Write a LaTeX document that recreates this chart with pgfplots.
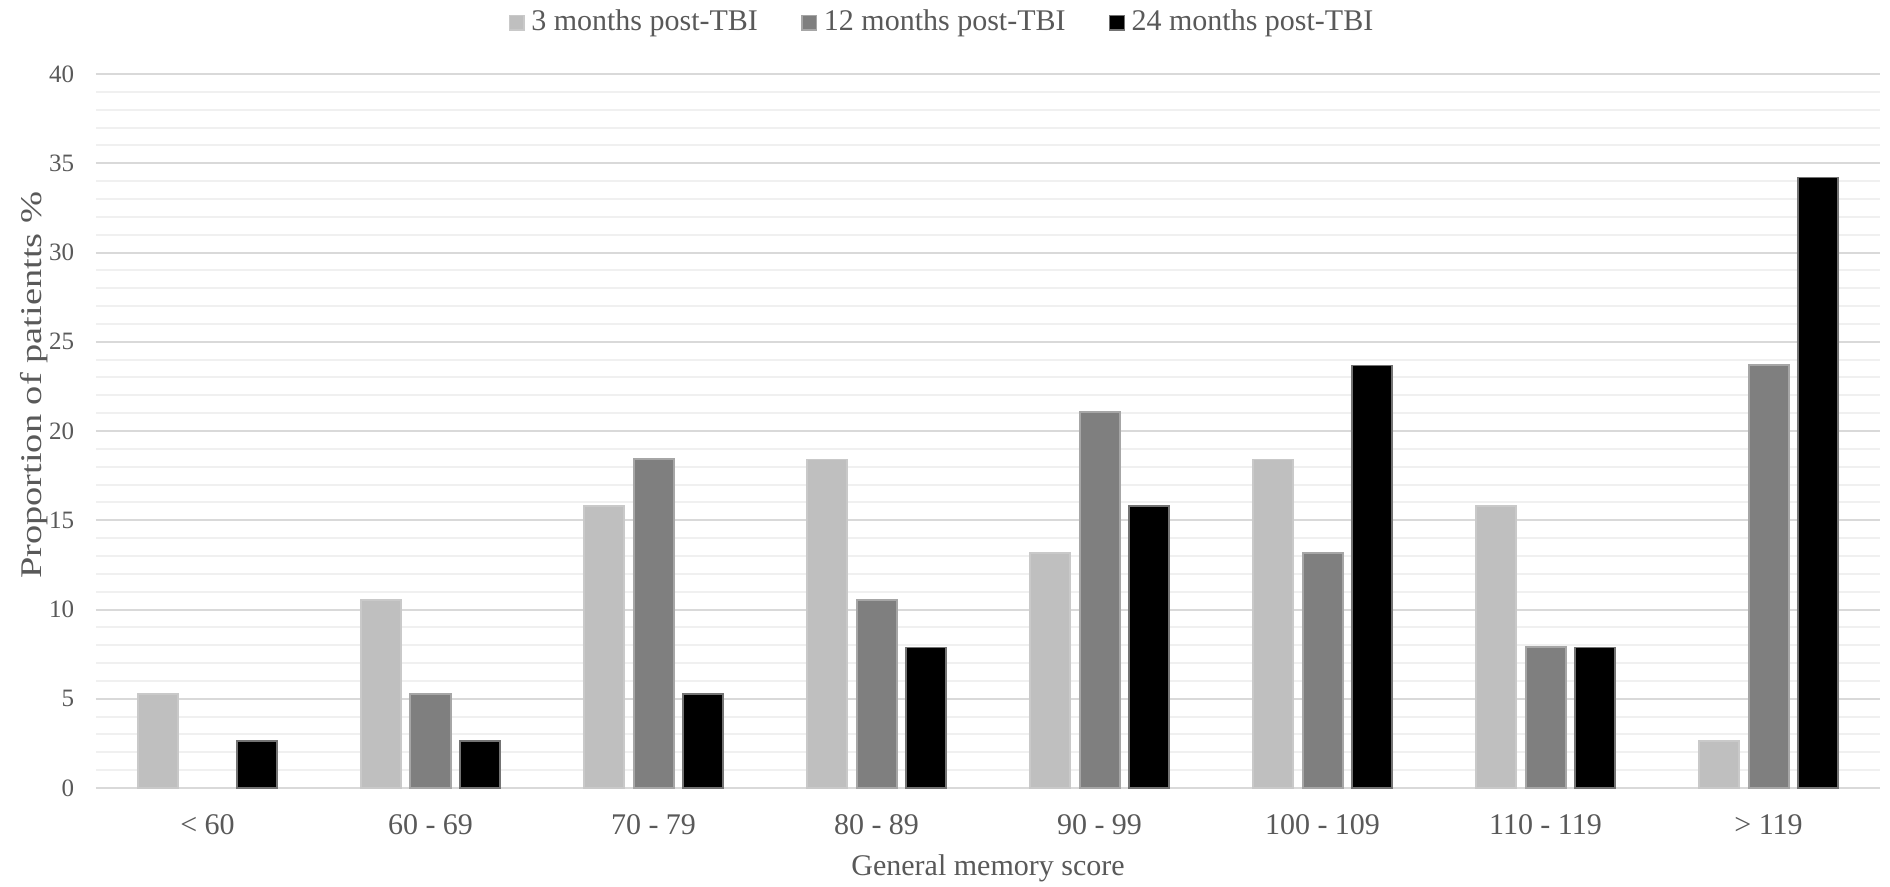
\documentclass[border=0pt]{standalone}
\usepackage{fontspec}
\setmainfont{Liberation Serif}
\newfontfamily\ylabfont[FakeStretch=1.28]{Liberation Serif}
\usepackage{pgfplots}
\pgfplotsset{compat=1.18}

\definecolor{txt}{HTML}{595959}
\definecolor{majgrid}{HTML}{D9D9D9}
\definecolor{mingrid}{HTML}{F0F0F0}
\definecolor{lightbar}{HTML}{BFBFBF}
\definecolor{darkbar}{HTML}{7F7F7F}

\pgfplotsset{
    sqlegend/.style={legend image code/.code={%
        \draw[##1,line width=0.4pt] (0pt,-2.2pt) rectangle (4.4pt,2.2pt);}},
}

\begin{document}
\begin{tikzpicture}
\begin{axis}[
    scale only axis,
    width=535.2pt, height=214.2pt,
    ybar=2.85pt, bar width=12pt,
    xmin=-0.5, xmax=7.5,
    ymin=0, ymax=40,
    enlargelimits=false,
    xtick={0,1,2,3,4,5,6,7},
    xticklabels={< 60, 60 - 69, 70 - 79, 80 - 89, 90 - 99, 100 - 109, 110 - 119, > 119},
    ytick={0,5,10,15,20,25,30,35,40},
    minor y tick num=4,
    major tick length=0pt, minor tick length=0pt,
    ymajorgrids, yminorgrids,
    major grid style={majgrid, line width=0.6pt},
    minor grid style={mingrid, line width=0.6pt},
    axis line style={draw=none},
    /pgf/number format/assume math mode=true,
    yticklabel style={font=\fontsize{7.5pt}{9pt}\selectfont, text=txt, xshift=-3pt},
    xticklabel style={font=\fontsize{9pt}{10pt}\selectfont, text=txt, yshift=-4.5pt},
    xlabel={General memory score},
    xlabel style={at={(axis description cs:0.5,-0.112)}, anchor=center,
        font=\fontsize{9pt}{10pt}\selectfont, text=txt},
    ylabel={Proportion of patientts \%},
    ylabel style={at={(axis description cs:-0.0345,0.564)}, anchor=center,
        font=\ylabfont\fontsize{9pt}{10pt}\selectfont, text=txt},
    legend columns=3,
    legend cell align=left,
    legend style={at={(axis description cs:0.4755,1.072)}, anchor=center,
        draw=none, fill=none, font=\fontsize{9pt}{10pt}\selectfont, text=txt,
        /tikz/every even column/.append style={column sep=11pt}},
]
\addplot[fill=lightbar, draw=lightbar!85!white, line width=0.4pt, sqlegend]
    coordinates {(0,5.26) (1,10.53) (2,15.79) (3,18.42) (4,13.16) (5,18.42) (6,15.79) (7,2.63)};
\addplot[fill=darkbar, draw=black!35, line width=0.6pt, sqlegend]
    coordinates {(1,5.26) (2,18.42) (3,10.53) (4,21.05) (5,13.16) (6,7.89) (7,23.68)};
\addplot[fill=black, draw=black!55, line width=0.4pt, sqlegend]
    coordinates {(0,2.63) (1,2.63) (2,5.26) (3,7.89) (4,15.79) (5,23.68) (6,7.89) (7,34.21)};
\legend{3 months post-TBI, 12 months post-TBI, 24 months post-TBI}
\end{axis}
\pgfresetboundingbox
\path[use as bounding box] (-28.8pt,-29.4pt) rectangle (538.2pt,236.4pt);
\end{tikzpicture}
\end{document}
